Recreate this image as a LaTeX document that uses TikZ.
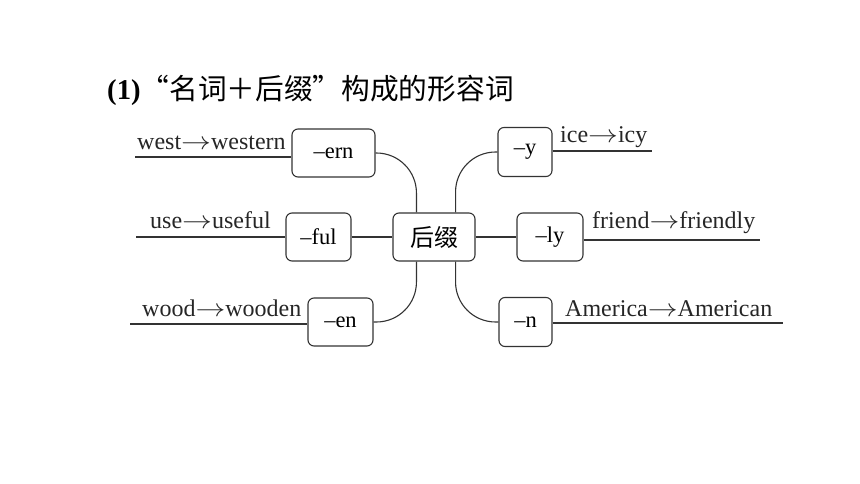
\documentclass[tikz,border=0pt]{standalone}
\usepackage{fontspec}
\usepackage{graphicx}
\setmainfont{Liberation Serif}
\newfontfamily\cjk{Noto Sans CJK SC}
\usetikzlibrary{calc}
\newcommand{\exarrow}{\scalebox{1.2}[1]{$\rightarrow$}}
\begin{document}
\begin{tikzpicture}[x=1pt,y=-1pt,
  box/.style={draw=black!80, line width=1.1pt, rounded corners=6pt, inner sep=0pt, fill=white, font=\fontsize{22.5}{22}\selectfont},
  ln/.style={draw=black!80, line width=1.1pt},
  cv/.style={draw=black!80, line width=1.1pt, rounded corners=40pt},
  ex/.style={anchor=base west, font=\fontsize{24}{24}\selectfont, inner sep=0pt, text=black!85}]
\useasboundingbox (0,0) rectangle (860,484);
% title
\node[anchor=base west, inner sep=0pt, font=\fontsize{28.7}{29}\selectfont] (title) at (107,100) {\textbf{(1)}\cjk “名词＋后缀”构成的形容词};
% central
\node[box, minimum width=82pt, minimum height=48pt, font=\cjk\fontsize{24}{24}\selectfont] (cent) at (434,237) {后缀};
% left boxes
\node[box, minimum width=83pt, minimum height=48pt] (ern) at (333.5,153) {–ern};
\node[box, minimum width=65pt, minimum height=48pt] (ful) at (318.5,237) {–ful};
\node[box, minimum width=65pt, minimum height=48pt] (en) at (340.5,322) {–en};
% right boxes
\node[box, minimum width=54pt, minimum height=49pt] (y) at (525,152) {–y};
\node[box, minimum width=66pt, minimum height=48pt] (ly) at (550,237) {–ly};
\node[box, minimum width=53pt, minimum height=49pt] (n) at (525.5,322) {–n};
% connectors to centre
\draw[cv] (ern.east) -| ($(cent.north west)+(24,0)$);
\draw[cv] (en.east) -| ($(cent.south west)+(24,0)$);
\draw[ln] (ful.east) -- (cent.west);
\draw[cv] (y.west) -| ($(cent.north east)+(-20,0)$);
\draw[cv] (n.west) -| ($(cent.south east)+(-20,0)$);
\draw[ln] (cent.east) -- (ly.west);
% examples
\coordinate (l1) at (135,157);
\coordinate (l2) at (136,237);
\coordinate (l3) at (130,324);
\coordinate (r1) at (652,151);
\coordinate (r2) at (760,240);
\coordinate (r3) at (783,323);
\draw[ln] (l1) -- (l1 -| ern.west);
\draw[ln] (l2) -- (l2 -| ful.west);
\draw[ln] (l3) -- (l3 -| en.west);
\draw[ln] (r1 -| y.east) -- (r1);
\draw[ln] (r2 -| ly.east) -- (r2);
\draw[ln] (r3 -| n.east) -- (r3);
\node[ex] (t1) at (137,150) {west\exarrow western};
\node[ex] (t2) at (150,228) {use\exarrow useful};
\node[ex] (t3) at (142,316) {wood\exarrow wooden};
\node[ex] (t4) at (560,143) {ice\exarrow icy};
\node[ex] (t5) at (592,228) {friend\exarrow friendly};
\node[ex] (t6) at (565,316) {America\exarrow American};
\end{tikzpicture}
\end{document}
